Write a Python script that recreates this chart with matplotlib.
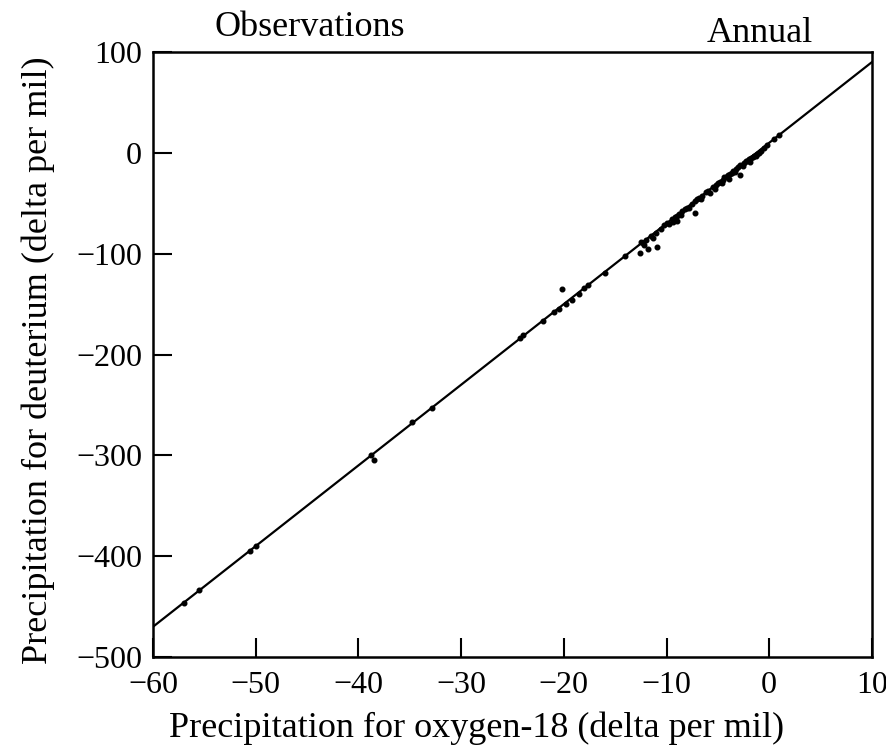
import numpy as np
import matplotlib
matplotlib.use("Agg")
import matplotlib.pyplot as plt

plt.rcParams['font.family'] = ['Liberation Serif', 'DejaVu Serif']

# observed annual precipitation points (delta O-18, delta D)
d18o = [-57.0, -55.5, -50.6, -50.0, -38.8, -38.5, -34.8, -32.8, -24.3, -24.0,
        -22.0, -21.0, -20.5, -20.2, -19.8, -19.2, -18.5, -18.0, -17.6, -16.0,
        -14.0, -12.6, -12.5, -12.3, -12.0, -11.8, -11.5, -11.0, -10.9, -10.5,
        -10.2, -10.0, -9.5, -9.2, -9.0, -8.8, -8.5, -8.2, -8.0, -7.5,
        -7.2, -7.2, -7.0, -6.8, -6.5, -6.2, -6.0, -5.5, -5.2, -5.0,
        -4.8, -4.5, -4.2, -4.0, -3.8, -3.5, -3.2, -3.0, -2.8, -2.8,
        -2.5, -2.2, -2.0, -1.8, -1.5, -1.2, -1.0, -0.8, -0.5, -0.2,
        0.5, 1.0,
        -12.2, -11.3, -9.8, -9.0, -8.6, -7.8, -6.6, -5.8, -4.6, -4.4,
        -3.6, -3.3, -2.6, -2.3, -1.9, -1.6, -1.3, -3.9, -5.3, -9.4]
d2h = [-446, -434, -395, -390, -300, -305, -267, -253, -184, -181,
       -167, -158, -155, -135, -150, -146, -140, -134, -131, -119,
       -102, -99, -88, -89, -86, -95, -82, -79, -93, -76,
       -72, -70, -66, -64, -63, -61, -58, -56, -55, -51,
       -48, -60, -46, -45, -43, -39, -38, -34, -32, -30,
       -29, -27, -24, -22, -21, -18, -16, -14, -12, -22,
       -10, -8, -6, -5, -3, -1, 0, 2, 5, 8,
       14, 18,
       -91, -84, -71, -68, -62, -55, -46, -40, -30, -24,
       -20, -19, -13, -8, -9, -4, -3, -26, -36, -69]

# global meteoric water line
line_x = [-60, 10]
slope, intercept = 8, 10

fig = plt.figure(figsize=(8.87, 7.55), dpi=100)
ax = fig.add_axes([0.1725, 0.1298, 0.8105, 0.8013])

lx = np.array(line_x)
ax.plot(lx, slope * lx + intercept, color='black', lw=1.6)
ax.scatter(d18o, d2h, s=11, color='black', zorder=3)

ax.set_xlim(-60, 10)
ax.set_ylim(-500, 100)
ax.set_xticks(range(-60, 11, 10))
ax.set_yticks(range(-500, 101, 100))
ax.set_xticklabels(['\u221260', '\u221250', '\u221240', '\u221230', '\u221220', '\u221210', '0', '10'])
ax.set_yticklabels(['\u2212500', '\u2212400', '\u2212300', '\u2212200', '\u2212100', '0', '100'])
ax.tick_params(direction='in', length=14, width=1.5, labelsize=23)
ax.tick_params(axis='x', pad=10)
ax.tick_params(axis='y', pad=8)
for s in ax.spines.values():
    s.set_linewidth(1.8)

ax.set_xlabel('Precipitation for oxygen-18 (delta per mil)', fontsize=26, va='center')
ax.set_ylabel('Precipitation for deuterium (delta per mil)', fontsize=26, va='center')
ax.xaxis.set_label_coords(0.45, -0.117)
ax.yaxis.set_label_coords(-0.16, 0.49)

fig.text(310 / 887, 1 - 27 / 755, 'Observations', fontsize=26, ha='center', va='center')
fig.text(760 / 887, 1 - 33 / 755, 'Annual', fontsize=26, ha='center', va='center')

fig.savefig('out.png', dpi=100)
